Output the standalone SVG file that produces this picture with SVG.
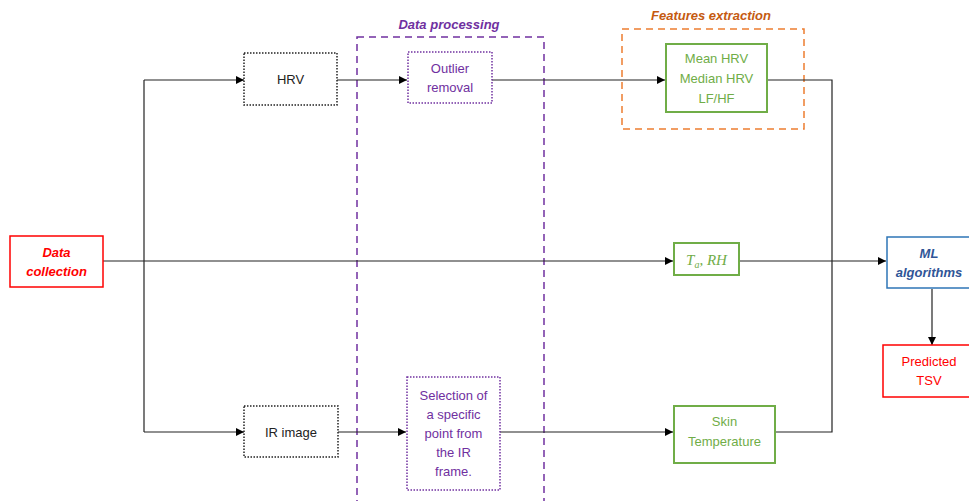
<svg xmlns="http://www.w3.org/2000/svg" width="969" height="501" viewBox="0 0 969 501">
<defs>
<marker id="arr" viewBox="0 0 10 10" refX="10" refY="5" markerWidth="8" markerHeight="8" markerUnits="userSpaceOnUse" orient="auto">
<path d="M0,0 L10,5 L0,10 z" fill="#000"/>
</marker>
<style>
text{font-family:"Liberation Sans","Noto Sans",sans-serif;font-size:13px;text-anchor:middle}
.bi{font-weight:bold;font-style:italic}
.c{fill:none;stroke:#222;stroke-width:1.2}
.dotk{fill:#fff;stroke:#222;stroke-width:1.5;stroke-dasharray:1.5 1.5}
.dotp{fill:#fff;stroke:#7030A0;stroke-width:1.5;stroke-dasharray:1.5 1.5}
.grn{fill:#fff;stroke:#70AD47;stroke-width:2}
.red{fill:#fff;stroke:#FF0000;stroke-width:1.5}
.blu{fill:#fff;stroke:#2E75B6;stroke-width:1.5}
</style>
</defs>
<rect width="969" height="501" fill="#fff"/>

<g id="data-processing">
<rect x="357" y="37" width="187" height="480" fill="none" stroke="#7030A0" stroke-width="1.5" stroke-dasharray="7 5"/>
<text x="449" y="29" class="bi" fill="#7030A0">Data processing</text>
</g>
<g id="features-extraction">
<rect x="622" y="29" width="182" height="100" fill="none" stroke="#ED7D31" stroke-width="1.5" stroke-dasharray="7 5"/>
<text x="711" y="20" class="bi" fill="#C55A11">Features extraction</text>
</g>

<g id="connectors">
<path class="c" d="M103,261 H144"/>
<path class="c" d="M144,80 V432"/>
<path class="c" d="M144,80 H244" marker-end="url(#arr)"/>
<path class="c" d="M144,432 H244" marker-end="url(#arr)"/>
<path class="c" d="M337,80 H407" marker-end="url(#arr)"/>
<path class="c" d="M492,80 H665" marker-end="url(#arr)"/>
<path class="c" d="M144,261 H673" marker-end="url(#arr)"/>
<path class="c" d="M338,432 H406" marker-end="url(#arr)"/>
<path class="c" d="M500,432 H673" marker-end="url(#arr)"/>
<path class="c" d="M767,80 H832 V432 H775"/>
<path class="c" d="M739,261 H886" marker-end="url(#arr)"/>
<path class="c" d="M932,289 V345" marker-end="url(#arr)"/>
</g>

<g id="data-collection">
<rect class="red" x="10" y="236" width="93" height="51"/>
<text class="bi" fill="#FF0000" x="56.5" y="257">Data</text>
<text class="bi" fill="#FF0000" x="56.5" y="276">collection</text>
</g>
<g id="hrv">
<rect class="dotk" x="244" y="53" width="93" height="52"/>
<text x="290.5" y="84" fill="#222">HRV</text>
</g>
<g id="outlier-removal">
<rect class="dotp" x="408" y="52" width="84" height="51"/>
<text x="450" y="73" fill="#7030A0">Outlier</text>
<text x="450" y="92" fill="#7030A0">removal</text>
</g>
<g id="hrv-features">
<rect class="grn" x="666" y="44" width="101" height="68"/>
<text x="716.5" y="63" fill="#70AD47">Mean HRV</text>
<text x="716.5" y="83" fill="#70AD47">Median HRV</text>
<text x="716.5" y="103" fill="#70AD47">LF/HF</text>
</g>
<g id="ta-rh">
<rect class="grn" x="674" y="243" width="65" height="32"/>
<text x="706.5" y="265" fill="#70AD47" style="font-family:'Liberation Serif',serif;font-style:italic;font-size:15px">T<tspan font-size="10" dy="3">a</tspan><tspan dy="-3">, RH</tspan></text>
</g>
<g id="ml-algorithms">
<rect class="blu" x="887" y="237" width="90" height="51"/>
<text class="bi" fill="#2F5597" x="929" y="258">ML</text>
<text class="bi" fill="#2F5597" x="929" y="277">algorithms</text>
</g>
<g id="predicted-tsv">
<rect class="red" x="883" y="345" width="94" height="52"/>
<text fill="#FF0000" x="929" y="366">Predicted</text>
<text fill="#FF0000" x="929" y="385">TSV</text>
</g>
<g id="ir-image">
<rect class="dotk" x="244" y="406" width="94" height="51"/>
<text x="291" y="437" fill="#222">IR image</text>
</g>
<g id="point-selection">
<rect class="dotp" x="407" y="377" width="93" height="113"/>
<text x="453.5" y="400" fill="#7030A0">Selection of</text>
<text x="453.5" y="419" fill="#7030A0">a specific</text>
<text x="453.5" y="438" fill="#7030A0">point from</text>
<text x="453.5" y="457" fill="#7030A0">the IR</text>
<text x="453.5" y="476" fill="#7030A0">frame.</text>
</g>
<g id="skin-temperature">
<rect class="grn" x="674" y="406" width="101" height="57"/>
<text x="724.5" y="426" fill="#70AD47">Skin</text>
<text x="724.5" y="446" fill="#70AD47">Temperature</text>
</g>
</svg>
